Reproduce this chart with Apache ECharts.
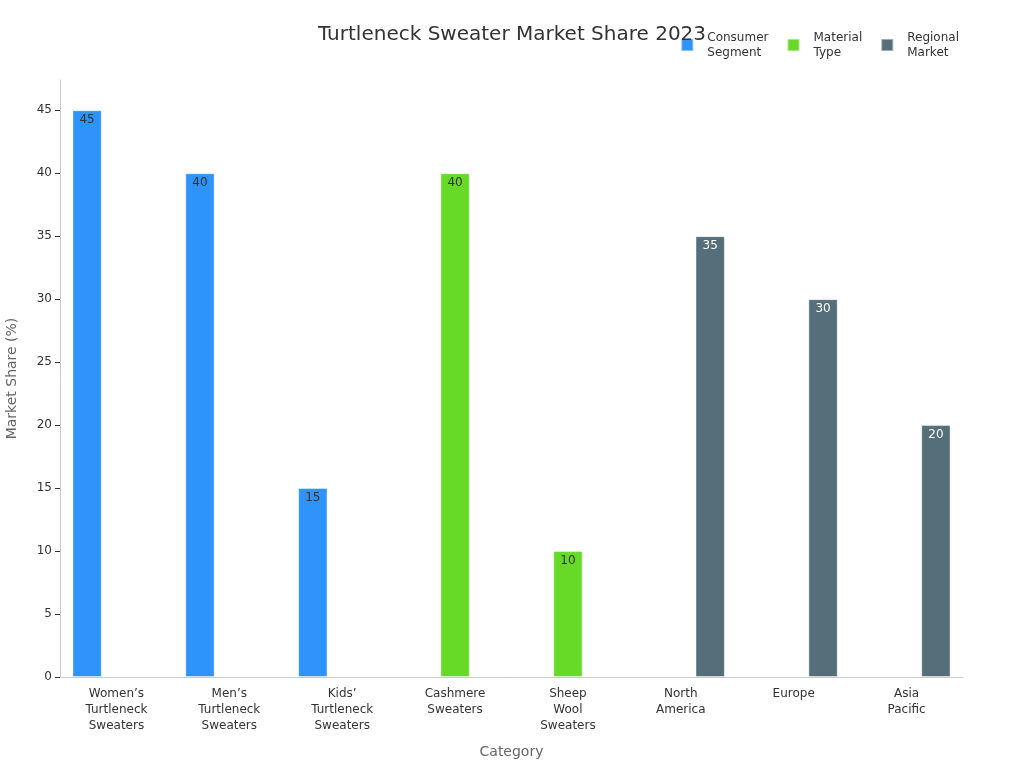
<!DOCTYPE html>
<html>
<head>
<meta charset="utf-8">
<script src="https://cdn.jsdelivr.net/npm/echarts@6/dist/echarts.min.js"></script>
<style>
  html, body { margin: 0; padding: 0; background: #fff; }
  #chart { width: 1024px; height: 768px; }
</style>
</head>
<body>
<div id="chart"></div>
<script>
// categories on the x axis
const categories = [
  'Women’s\nTurtleneck\nSweaters',
  'Men’s\nTurtleneck\nSweaters',
  'Kids’\nTurtleneck\nSweaters',
  'Cashmere\nSweaters',
  'Sheep\nWool\nSweaters',
  'North\nAmerica',
  'Europe',
  'Asia\nPacific'
];

// one series per group, empty where the category belongs to another group
const consumerSegment = [45, 40, 15, null, null, null, null, null];
const materialType = [null, null, null, 40, 10, null, null, null];
const regionalMarket = [null, null, null, null, null, 35, 30, 20];

const seriesNames = ['Consumer\nSegment', 'Material\nType', 'Regional\nMarket'];
const colors = ['#2E93FA', '#66DA26', '#546E7A'];
const labelColors = ['#333', '#333', '#fff'];

const chart = echarts.init(document.getElementById('chart'));
const font = 'DejaVu Sans';

function makeSeries(name, data, i) {
  return {
    name: name,
    type: 'bar',
    data: data,
    barGap: '0%',
    barCategoryGap: '22%',
    itemStyle: {
      color: colors[i],
      borderColor: 'rgba(255,255,255,0.45)',
      borderWidth: 1
    },
    label: {
      show: true,
      position: 'insideTop',
      distance: 4,
      color: labelColors[i],
      fontFamily: font,
      fontSize: 12
    }
  };
}

chart.setOption({
  animation: false,
  textStyle: { fontFamily: font },
  title: {
    text: 'Turtleneck Sweater Market Share 2023',
    left: 'center',
    top: 20,
    textStyle: { fontFamily: font, fontSize: 20, fontWeight: 'normal', color: '#333' }
  },
  legend: {
    top: 25,
    right: 60,
    itemWidth: 12,
    itemHeight: 12,
    itemGap: 18,
    icon: 'rect',
    textStyle: { fontFamily: font, fontSize: 12, color: '#333', lineHeight: 15, padding: [0, 0, 0, 9] }
  },
  grid: { left: 60, right: 61, top: 80, bottom: 91, containLabel: false, outerBoundsMode: 'none' },
  xAxis: {
    type: 'category',
    data: categories,
    name: 'Category',
    nameLocation: 'middle',
    nameGap: 68,
    nameTextStyle: { fontFamily: font, fontSize: 14, color: '#666' },
    axisLine: { lineStyle: { color: '#ccc' } },
    axisTick: { alignWithLabel: true, length: 5, lineStyle: { color: '#333' } },
    axisLabel: { interval: 0, color: '#333', fontSize: 12, lineHeight: 16, margin: 9 }
  },
  yAxis: {
    type: 'value',
    min: 0,
    max: 47.4,
    interval: 5,
    name: 'Market Share (%)',
    nameLocation: 'middle',
    nameGap: 41,
    nameTextStyle: { fontFamily: font, fontSize: 14, color: '#666' },
    splitLine: { show: false },
    axisLine: { show: true, lineStyle: { color: '#ccc' } },
    axisTick: { show: true, length: 5, lineStyle: { color: '#333' } },
    axisLabel: { color: '#333', fontSize: 12, showMaxLabel: false, margin: 8 }
  },
  series: [
    makeSeries(seriesNames[0], consumerSegment, 0),
    makeSeries(seriesNames[1], materialType, 1),
    makeSeries(seriesNames[2], regionalMarket, 2)
  ]
});
</script>
</body>
</html>
